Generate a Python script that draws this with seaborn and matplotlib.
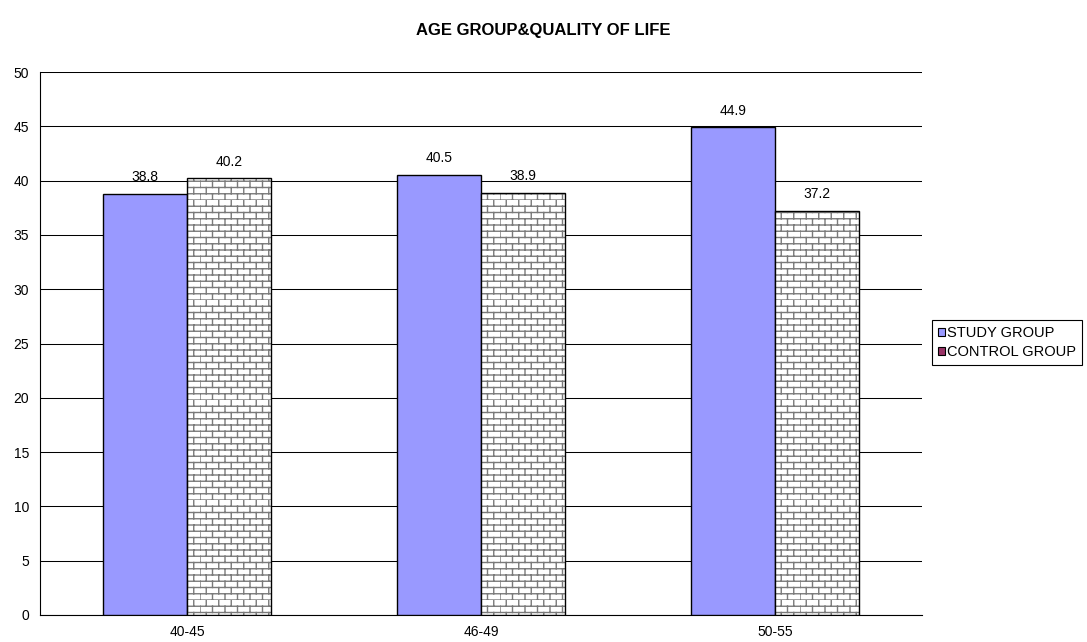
import numpy as np
import pandas as pd
import matplotlib
matplotlib.use("Agg")
import matplotlib.pyplot as plt
import matplotlib.hatch as mhatch
from matplotlib.path import Path
from matplotlib.patches import Patch, Rectangle
import seaborn as sns

categories = ["40-45", "46-49", "50-55"]
study_values = [38.8, 40.5, 44.9]
control_values = [40.2, 38.9, 37.2]
series_names = ["STUDY GROUP", "CONTROL GROUP"]
title = "AGE GROUP&QUALITY OF LIFE"
yticks = list(range(0, 51, 5))


class BrickHatch(mhatch.HatchPatternBase):
    def __init__(self, hatch, density):
        self.rows = 16 if "*" in hatch else 0
        self.cols = 8
        self.num_vertices = self.rows * 2 + self.rows * self.cols * 2

    def set_vertices_and_codes(self, vertices, codes):
        k = 0
        for i in range(self.rows):
            y0 = i / self.rows
            y1 = (i + 1) / self.rows
            vertices[k] = (0.0, y0); codes[k] = Path.MOVETO; k += 1
            vertices[k] = (1.0, y0); codes[k] = Path.LINETO; k += 1
            off = 0.5 * (i % 2)
            for j in range(self.cols):
                x = (j + off) / self.cols
                vertices[k] = (x, y0); codes[k] = Path.MOVETO; k += 1
                vertices[k] = (x, y1); codes[k] = Path.LINETO; k += 1


mhatch._hatch_types = [t for t in mhatch._hatch_types if t.__name__ != "Stars"] + [BrickHatch]

sns.set_theme(style="white")
plt.rcParams["font.family"] = ["Liberation Sans", "DejaVu Sans"]
plt.rcParams["hatch.linewidth"] = 1.0
plt.rcParams["text.color"] = "black"

FS = 10

df = pd.DataFrame({
    "cat": categories * 2,
    "value": study_values + control_values,
    "series": [series_names[0]] * 3 + [series_names[1]] * 3,
})

fig = plt.figure(figsize=(10.87, 6.42), dpi=100)
ax = fig.add_axes([40 / 1087, 27 / 642, 882 / 1087, 543 / 642])

sns.barplot(data=df, x="cat", y="value", hue="series", order=categories,
            hue_order=series_names,
            palette={series_names[0]: "#9999FF", series_names[1]: "white"},
            width=0.57, gap=0, saturation=1, edgecolor="black", linewidth=1,
            errorbar=None, legend=False, ax=ax, zorder=3)

# brick pattern on control bars
for p in ax.containers[1]:
    p.set_hatch("*")
    p.set_edgecolor("#7a7a7a")
    p.set_linewidth(0)
    ax.add_patch(Rectangle(p.get_xy(), p.get_width(), p.get_height(),
                           fill=False, edgecolor="black", linewidth=1, zorder=4))

for c in ax.containers:
    ax.bar_label(c, fmt="%.1f", padding=7, fontsize=FS, color="black")

ax.set_ylim(0, 50)
ax.set_xlim(-0.5, 2.5)
ax.set_yticks(yticks)
ax.set_yticklabels([str(t) for t in yticks], fontsize=FS)
ax.set_xticks(range(len(categories)))
ax.set_xticklabels(categories, fontsize=FS)
ax.tick_params(axis="x", which="major", length=0, pad=7, colors="black")
ax.set_xticks([-0.5, 0.5, 1.5, 2.5], minor=True)
ax.tick_params(axis="x", which="minor", length=5, width=0.8, color="black", direction="out")
ax.tick_params(axis="y", length=5, width=0.8, color="black", direction="out", pad=3, labelcolor="black")
ax.yaxis.grid(True, color="black", linewidth=0.75, zorder=0)
ax.set_axisbelow(True)
ax.set_xlabel("")
ax.set_ylabel("")
for s in ["top", "right"]:
    ax.spines[s].set_visible(False)
for s in ["left", "bottom"]:
    ax.spines[s].set_color("black")
    ax.spines[s].set_linewidth(0.8)

fig.text(0.5, 1 - 30 / 642, title, ha="center", va="center",
         fontsize=12, fontweight="bold", color="black")

handles = [Patch(facecolor="#9999FF", edgecolor="black", linewidth=0.8),
           Patch(facecolor="#993366", edgecolor="black", linewidth=0.8)]
leg = fig.legend(handles, series_names, loc="upper left",
                 bbox_to_anchor=(932 / 1087, 1 - 320 / 642),
                 fontsize=10.5, frameon=True, fancybox=False, framealpha=1,
                 edgecolor="black", borderpad=0.4, handlelength=0.5,
                 handleheight=0.5, handletextpad=0.15, labelspacing=0.38,
                 borderaxespad=0, labelcolor="black")
leg.get_frame().set_linewidth(0.8)

fig.savefig("out.png", dpi=100)
